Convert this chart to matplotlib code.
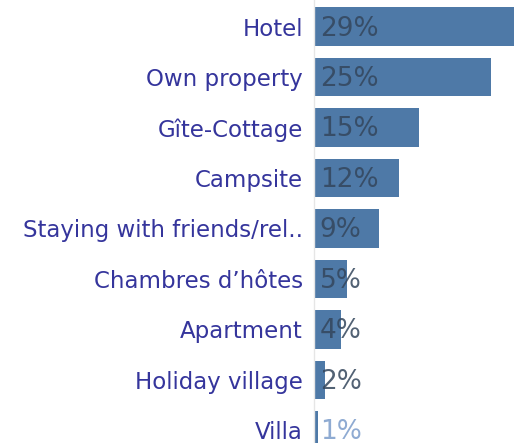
import matplotlib.pyplot as plt

# Data
categories = ['Hotel', 'Own property', 'Gîte-Cottage', 'Campsite',
              'Staying with friends/rel..', 'Chambres d\u2019hôtes', 'Apartment',
              'Holiday village', 'Villa']
values = [29.0, 25.0, 14.8, 12.0, 9.2, 4.6, 3.8, 1.55, 0.55]
value_labels = ['29%', '25%', '15%', '12%', '9%', '5%', '4%', '2%', '1%']

plt.rcParams['font.family'] = ['DejaVu Sans']

fig = plt.figure(figsize=(5.14, 4.43), dpi=100)
ax = fig.add_axes([314 / 514, 0, 200 / 514, 1])

pos = list(range(len(categories)))
ax.barh(pos, values, height=0.76, color='#4e79a7', edgecolor='none')

for i, (v, lab) in enumerate(zip(values, value_labels)):
    col = '#7b9ccb' if i == len(values) - 1 else '#34465c'
    ax.text(0.8, i + 0.04, lab, va='center', ha='left', fontsize=19,
            color=col, alpha=0.85)

ax.set_xlim(0, 28.25)
ax.set_ylim(8.25, -0.525)
ax.set_yticks(pos)
ax.set_yticklabels(categories, fontsize=16.5, color='#35359c')
ax.tick_params(axis='y', length=0, pad=8)
ax.set_xticks([])

for s in ['top', 'right', 'bottom']:
    ax.spines[s].set_visible(False)
ax.spines['left'].set_color('#e6e6e6')
ax.spines['left'].set_linewidth(1)

fig.savefig('out.png', dpi=100)
